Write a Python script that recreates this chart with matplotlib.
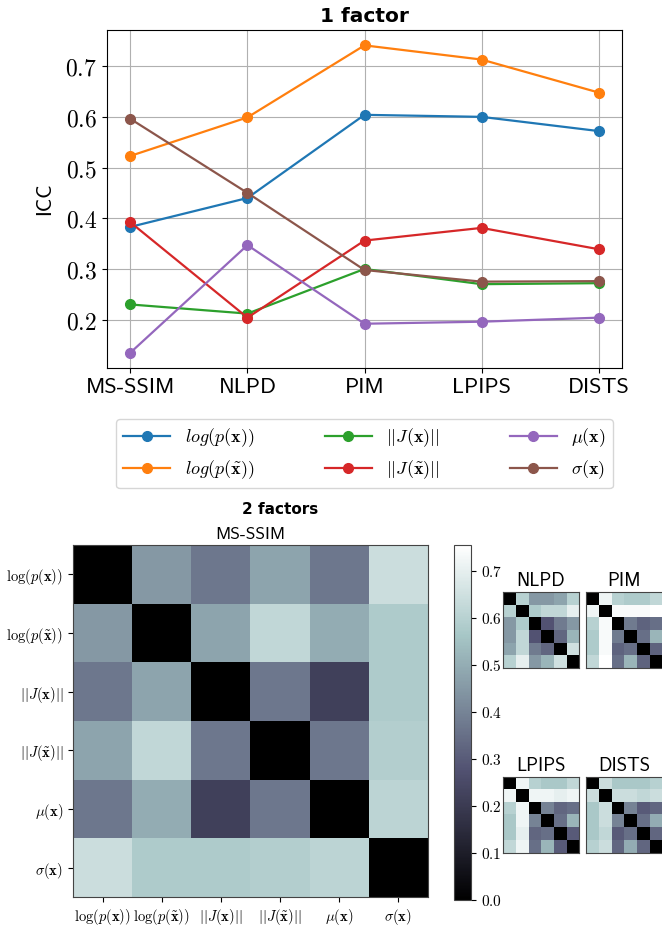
import os
import matplotlib
matplotlib.use("Agg")
import matplotlib.pyplot as plt
from matplotlib.ticker import FuncFormatter
from matplotlib.font_manager import FontProperties
import numpy as np

plt.rcParams["mathtext.fontset"] = "cm"

CMSS = os.path.join(matplotlib.get_data_path(), "fonts", "ttf", "cmss10.ttf")


def sans(size):
    if os.path.exists(CMSS):
        return FontProperties(fname=CMSS, size=size)
    return FontProperties(family="DejaVu Sans", size=size)


metrics = ["MS-SSIM", "NLPD", "PIM", "LPIPS", "DISTS"]

# ICC, one factor model
icc_logp = [0.383, 0.440, 0.604, 0.600, 0.572]
icc_logp_t = [0.523, 0.599, 0.741, 0.713, 0.648]
icc_jac = [0.230, 0.212, 0.300, 0.270, 0.272]
icc_jac_t = [0.392, 0.204, 0.356, 0.381, 0.339]
icc_mu = [0.135, 0.347, 0.192, 0.196, 0.204]
icc_sigma = [0.596, 0.450, 0.298, 0.275, 0.276]

legend_labels = [r"$log(p(\mathbf{x}))$", r"$log(p(\tilde{\mathbf{x}}))$",
                 r"$||J(\mathbf{x})||$", r"$||J(\tilde{\mathbf{x}})||$",
                 r"$\mu(\mathbf{x})$", r"$\sigma(\mathbf{x})$"]
tick_labels = [r"$\log(p(\mathbf{x}))$", r"$\log(p(\tilde{\mathbf{x}}))$",
               r"$||J(\mathbf{x})||$", r"$||J(\tilde{\mathbf{x}})||$",
               r"$\mu(\mathbf{x})$", r"$\sigma(\mathbf{x})$"]

# two factor model, pairwise ICC (upper triangle, row by row)
ms_ssim_pairs = [0.45, 0.37, 0.48, 0.37, 0.64,
                 0.48, 0.62, 0.50, 0.58,
                 0.37, 0.22, 0.58,
                 0.37, 0.59,
                 0.61]
nlpd_pairs = [0.60, 0.45, 0.45, 0.48, 0.60,
              0.58, 0.62, 0.62, 0.70,
              0.28, 0.38, 0.45,
              0.33, 0.52,
              0.65]
pim_pairs = [0.72, 0.60, 0.58, 0.58, 0.62,
             0.74, 0.74, 0.74, 0.755,
             0.38, 0.32, 0.35,
             0.35, 0.52,
             0.32]
lpips_pairs = [0.72, 0.60, 0.57, 0.57, 0.62,
               0.72, 0.72, 0.70, 0.72,
               0.40, 0.33, 0.35,
               0.35, 0.52,
               0.30]
dists_pairs = [0.64, 0.57, 0.57, 0.57, 0.60,
               0.64, 0.64, 0.62, 0.64,
               0.40, 0.30, 0.33,
               0.35, 0.50,
               0.33]


def to_matrix(pairs, n=6):
    m = np.zeros((n, n))
    iu = np.triu_indices(n, 1)
    m[iu] = pairs
    return m + m.T


W, H = 662, 927
fig = plt.figure(figsize=(W/100, H/100), dpi=100)


def px(l, t, r, b):
    return [l/W, 1-b/H, (r-l)/W, (b-t)/H]


cm_fmt = FuncFormatter(lambda v, pos: "$%.1f$" % v)

ax = fig.add_axes(px(107, 30, 622, 368))
series = [icc_logp, icc_logp_t, icc_jac, icc_jac_t, icc_mu, icc_sigma]
x = np.arange(len(metrics))
for s, lab in zip(series, legend_labels):
    ax.plot(x, s, "-o", lw=1.6, ms=7, label=lab)
ax.set_xticks(x)
ax.set_xticklabels(metrics, fontproperties=sans(16))
ax.yaxis.set_major_formatter(cm_fmt)
ax.tick_params(axis="y", labelsize=17)
ax.set_ylabel("ICC", fontproperties=sans(15), labelpad=8)
ax.grid(True, color="#b0b0b0", lw=0.8)
ax.set_title("1 factor", fontsize=14.5, fontweight="bold", pad=6)
ax.legend(ncol=3, loc="upper center", bbox_to_anchor=(0.5, -0.125),
          fontsize=13, columnspacing=3.9, handlelength=2.6)

vmax = 0.755
cmap = "bone"

axm = fig.add_axes(px(73, 545, 428, 897))
im = axm.imshow(to_matrix(ms_ssim_pairs), cmap=cmap, vmin=0, vmax=vmax,
                aspect="auto")
axm.set_xticks(range(6))
axm.set_yticks(range(6))
axm.set_xticklabels(tick_labels, fontsize=10.5)
axm.set_yticklabels(tick_labels, fontsize=10.5)
axm.set_title("MS-SSIM", fontproperties=sans(12.5), pad=4)
for sp in axm.spines.values():
    sp.set_color("#444444")
fig.text(280/W, 1-510/H, "2 factors", ha="center", va="center",
         fontsize=11, fontweight="bold")

cax = fig.add_axes(px(454, 545, 471, 900))
cb = fig.colorbar(im, cax=cax)
cb.ax.yaxis.set_major_formatter(cm_fmt)
cb.ax.tick_params(labelsize=11)
cb.outline.set_edgecolor("#444444")

small = [("NLPD", nlpd_pairs, (503, 592, 579, 668)),
         ("PIM", pim_pairs, (586, 592, 663, 668)),
         ("LPIPS", lpips_pairs, (503, 777, 579, 853)),
         ("DISTS", dists_pairs, (586, 777, 663, 853))]
for name, pairs, box in small:
    a = fig.add_axes(px(*box))
    a.imshow(to_matrix(pairs), cmap=cmap, vmin=0, vmax=vmax, aspect="auto")
    a.set_xticks([])
    a.set_yticks([])
    a.set_title(name, fontproperties=sans(13.5), pad=4)
    for sp in a.spines.values():
        sp.set_color("#444444")

fig.savefig("out.png", dpi=100)
